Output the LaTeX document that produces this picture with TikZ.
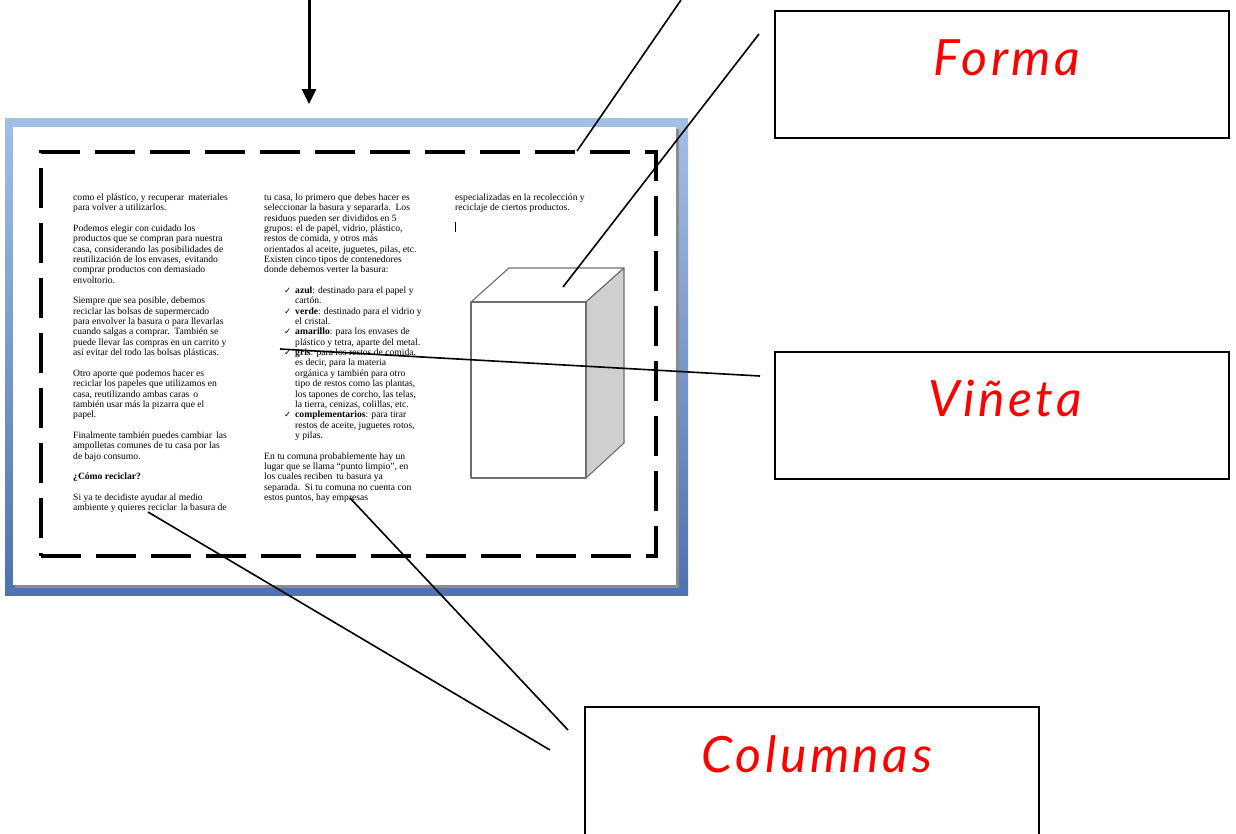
\documentclass[tikz,border=0pt]{standalone}
\usepackage{fontspec}
\usetikzlibrary{arrows.meta}
\setmainfont{Liberation Serif}
\newfontfamily\labelfont[LetterSpace=7]{Lato}
\newfontfamily\symfont{DejaVu Sans}
\definecolor{frameTop}{HTML}{A3BFE6}
\definecolor{frameBot}{HTML}{4F73B0}
\definecolor{cubeEdge}{HTML}{6E6E6E}
\definecolor{cubeSide}{HTML}{D0D0D0}
\newcommand{\chk}{\hspace*{20pt}\makebox[11pt][l]{\symfont\fontsize{8.5}{8}\selectfont ✓}}
\newcommand{\ind}{\hspace*{31pt}}
\begin{document}
\begin{tikzpicture}[x=1pt,y=-1pt,
  coltext/.style={anchor=north west, inner sep=0pt, align=left, font=\fontsize{9.6}{10.35}\selectfont},
  labelbox/.style={draw, line width=2pt, minimum width=454pt, minimum height=127pt, inner sep=0pt},
  labeltext/.style={text=red, inner sep=0pt, font=\labelfont\itshape\fontsize{50}{56}\selectfont},
  leader/.style={line width=1.6pt},
  cubeface/.style={draw=cubeEdge, line width=1.1pt, line join=round}]
\useasboundingbox (0,0) rectangle (1236,833);
% page frame
\shade[top color=frameTop, bottom color=frameBot] (5,118) rectangle (688,595);
\fill[black!45] (15,129) rectangle (679,588);
\fill[white] (13,127) rectangle (676,585);
% dashed border
\node[draw, line width=4pt, dash pattern=on 40pt off 15pt, minimum width=615pt, minimum height=404pt, inner sep=0pt] (border) at (348.5,354) {};
% text columns
\node[coltext] (col1) at (73,193.5) {como el plástico, y recuperar\, materiales\\
para volver a utilizarlos.\\[10.35pt]
Podemos elegir con cuidado los\\
productos que se compran para nuestra\\
casa, considerando las posibilidades de\\
reutilización de los envases,\, evitando\\
comprar productos con demasiado\\
envoltorio.\\[10.35pt]
Siempre que sea posible, debemos\\
reciclar las bolsas de supermercado\\
para envolver la basura o para llevarlas\\
cuando salgas a comprar.\, También se\\
puede llevar las compras en un carrito y\\
así evitar del todo las bolsas plásticas.\\[10.35pt]
Otro aporte que podemos hacer es\\
reciclar los papeles que utilizamos en\\
casa, reutilizando ambas caras\, o\\
también usar más la pizarra que el\\
papel.\\[10.35pt]
Finalmente también puedes cambiar\, las\\
ampolletas comunes de tu casa por las\\
de bajo consumo.\\[10.35pt]
\textbf{¿Cómo reciclar?}\\[10.35pt]
Si ya te decidiste ayudar al medio\\
ambiente y quieres reciclar\, la basura de};
\node[coltext] (col2) at (264,193.5) {tu casa, lo primero que debes hacer es\\
seleccionar la basura y separarla.\, Los\\
residuos pueden ser divididos en 5\\
grupos: el de papel, vidrio, plástico,\\
restos de comida, y otros más\\
orientados al aceite, juguetes, pilas, etc.\\
Existen cinco tipos de contenedores\\
donde debemos verter la basura:\\[10.35pt]
\chk\textbf{azul}: destinado para el papel y\\
\ind cartón.\\
\chk\textbf{verde}: destinado para el vidrio y\\
\ind el cristal.\\
\chk\textbf{amarillo}: para los envases de\\
\ind plástico y tetra, aparte del metal.\\
\chk\textbf{gris}: para los restos de comida,\\
\ind es decir, para la materia\\
\ind orgánica y también para otro\\
\ind tipo de restos como las plantas,\\
\ind los tapones de corcho, las telas,\\
\ind la tierra, cenizas, colillas, etc.\\
\chk\textbf{complementarios}: para tirar\\
\ind restos de aceite, juguetes rotos,\\
\ind y pilas.\\[10.35pt]
En tu comuna probablemente hay un\\
lugar que se llama “punto limpio”, en\\
los cuales reciben\, tu basura ya\\
separada.\, Si tu comuna no cuenta con\\
estos puntos, hay empresas};
\node[coltext] (col3) at (455,193.5) {especializadas en la recolección y\\
reciclaje de ciertos productos.};
\draw[line width=1.8pt] (455.5,222) -- (455.5,232);
% cube
\filldraw[cubeface, fill=white] (471,302) -- (509,268) -- (624,268) -- (586,302) -- cycle;
\filldraw[cubeface, fill=cubeSide] (586,302) -- (624,268) -- (624,443) -- (586,478) -- cycle;
\filldraw[cubeface, fill=white] (471,302) rectangle (586,478);
% top arrow
\coordinate (arrowtop) at (309,0);
\coordinate (arrowend) at (309,104);
\draw[line width=3pt, -{Triangle[length=15pt,width=14pt]}] (arrowtop) -- (arrowend);
% label boxes
\node[labelbox] (forma) at (1002,74.5) {};
\node[labeltext] (formatext) at (1007,58) {Forma};
\node[labelbox] (vineta) at (1002,415) {};
\node[labeltext] (vinetatext) at (1005,398) {Viñeta};
\node[labelbox, minimum height=135pt] (columnas) at (812,774.5) {};
\node[labeltext] (columnastext) at (817,754) {Columnas};
% leader lines
\coordinate (fa) at (681,0);
\coordinate (fb) at (577,151);
\coordinate (fc) at (759,34);
\coordinate (fd) at (563,287);
\coordinate (va) at (280,349);
\coordinate (vb) at (760,376);
\coordinate (ca) at (550,750);
\coordinate (cb) at (148,512);
\coordinate (cc) at (568,730);
\coordinate (cd) at (350,498);
\draw[leader] (fa) -- (fb);
\draw[leader] (fc) -- (fd);
\draw[leader] (va) -- (vb);
\draw[leader] (ca) -- (cb);
\draw[leader] (cc) -- (cd);
\end{tikzpicture}
\end{document}
